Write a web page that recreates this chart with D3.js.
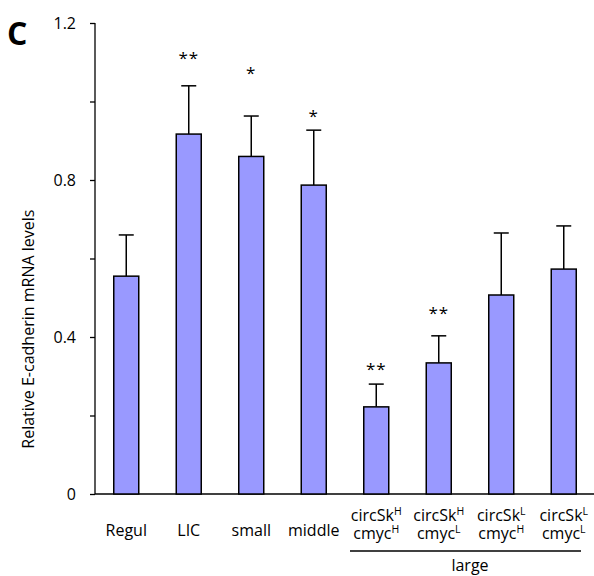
<!DOCTYPE html>
<html>
<head>
<meta charset="utf-8">
<script src="https://cdn.jsdelivr.net/npm/d3@7"></script>
<style>
  body { margin: 0; background: #fff; }
  svg { display: block; font-family: "Open Sans", sans-serif; }
</style>
</head>
<body>
<svg width="594" height="576"></svg>
<script>
// categories, one per bar
const categories = ["Regul", "LIC", "small", "middle", "HH", "HL", "LH", "LL"];
// two-line labels for the "large" subgroups: [circSk superscript, cmyc superscript]
const subLabels = { HH: ["H", "H"], HL: ["H", "L"], LH: ["L", "H"], LL: ["L", "L"] };
const values = [0.555, 0.917, 0.860, 0.787, 0.222, 0.334, 0.507, 0.573];
const errors = [0.105, 0.123, 0.103, 0.140, 0.058, 0.069, 0.158, 0.110];
// significance marks and the height (in data units) they sit at
const stars = ["", "**", "*", "*", "**", "**", "", ""];
const starAt = [0, 1.113, 1.075, 0.966, 0.321, 0.464, 0, 0];
const yTicks = [0, 0.2, 0.4, 0.6, 0.8, 1.0, 1.2];
const yLabels = [0, 0.4, 0.8, 1.2];

const FONT = "'Open Sans', sans-serif";
const svg = d3.select("svg");

const x = d3.scaleBand()
    .domain(categories)
    .range([95, 595])
    .paddingInner(0.6)
    .paddingOuter(0.3);

const y = d3.scaleLinear()
    .domain([0, 1.2])
    .range([494, 23]);

// y axis
const yAxis = d3.axisLeft(y)
    .tickValues(yTicks)
    .tickSize(5)
    .tickFormat(d => yLabels.includes(d) ? (d === 0 ? "0" : d3.format(".1f")(d)) : "");

const ya = svg.append("g")
    .attr("transform", "translate(95,0)")
    .call(yAxis);
ya.select(".domain").attr("stroke", "#000").attr("stroke-width", 1.3)
    .attr("d", `M0,${y(1.2)}V${y(0)}`);
ya.selectAll(".tick line").attr("stroke", "#000").attr("stroke-width", 1.3);
ya.selectAll(".tick text")
    .attr("x", -19)
    .attr("font-size", 16)
    .attr("font-family", FONT)
    .attr("fill", "#000");

// x axis baseline
svg.append("line")
    .attr("x1", 95).attr("x2", 594)
    .attr("y1", y(0)).attr("y2", y(0))
    .attr("stroke", "#000").attr("stroke-width", 1.3);

// error bars (upper only)
const err = svg.append("g").attr("stroke", "#000").attr("stroke-width", 1.5);
categories.forEach((c, i) => {
  const cx = x(c) + x.bandwidth() / 2;
  err.append("line")
      .attr("x1", cx).attr("x2", cx)
      .attr("y1", y(values[i])).attr("y2", y(values[i] + errors[i]));
  err.append("line")
      .attr("x1", cx - 7.5).attr("x2", cx + 7.5)
      .attr("y1", y(values[i] + errors[i])).attr("y2", y(values[i] + errors[i]));
});

// bars
svg.append("g")
  .selectAll("rect")
  .data(categories)
  .join("rect")
    .attr("x", d => x(d))
    .attr("y", (d, i) => y(values[i]))
    .attr("width", x.bandwidth())
    .attr("height", (d, i) => y(0) - y(values[i]))
    .attr("fill", "#9999ff")
    .attr("stroke", "#000")
    .attr("stroke-width", 1.5);

// stars
svg.append("g")
  .selectAll("text")
  .data(categories)
  .join("text")
    .attr("x", d => x(d) + x.bandwidth() / 2)
    .attr("y", (d, i) => y(starAt[i]) + 7)
    .attr("text-anchor", "middle")
    .attr("font-size", 17)
    .attr("font-family", FONT)
    .attr("letter-spacing", 1)
    .text((d, i) => stars[i]);

// x labels
const lab = svg.append("g").attr("font-size", 16).attr("text-anchor", "middle").attr("fill", "#000");
categories.forEach(c => {
  const cx = x(c) + x.bandwidth() / 2;
  if (subLabels[c]) {
    const [s1, s2] = subLabels[c];
    const t1 = lab.append("text").attr("x", cx).attr("y", 521);
    t1.append("tspan").text("circSk");
    t1.append("tspan").attr("font-size", 10.5).attr("dy", -6).text(s1);
    const t2 = lab.append("text").attr("x", cx).attr("y", 539);
    t2.append("tspan").text("cmyc");
    t2.append("tspan").attr("font-size", 10.5).attr("dy", -6).text(s2);
  } else {
    lab.append("text").attr("x", cx).attr("y", 536).text(c);
  }
});

// "large" bracket
const big = categories.filter(c => subLabels[c]);
svg.append("line")
    .attr("x1", 350).attr("x2", 581)
    .attr("y1", 551).attr("y2", 551)
    .attr("stroke", "#000").attr("stroke-width", 1.3);
svg.append("text")
    .attr("x", (x(big[0]) + x(big[big.length - 1]) + x.bandwidth()) / 2)
    .attr("y", 571)
    .attr("text-anchor", "middle")
    .attr("font-size", 16)
    .text("large");

// y axis title
svg.append("text")
    .attr("transform", `translate(34,${y(0.42)}) rotate(-90)`)
    .attr("text-anchor", "middle")
    .attr("font-size", 16)
    .text("Relative E-cadherin mRNA levels");

// panel letter
svg.append("text")
    .attr("x", 7).attr("y", 45)
    .attr("font-size", 32)
    .attr("font-weight", "bold")
    .text("C");
</script>
</body>
</html>
